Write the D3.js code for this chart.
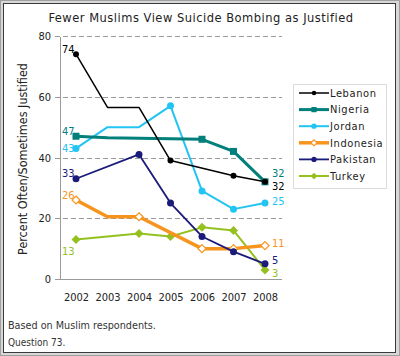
<!DOCTYPE html>
<html>
<head>
<meta charset="utf-8">
<script src="https://cdn.jsdelivr.net/npm/d3@7"></script>
<style>
  html, body { margin: 0; padding: 0; background: #fff; }
  svg { display: block; }
  text { font-family: "DejaVu Sans Condensed", "DejaVu Sans", sans-serif; }
</style>
</head>
<body>
<svg id="chart" width="400" height="356"></svg>
<script>
// ---------- data ----------
const years = [2002, 2003, 2004, 2005, 2006, 2007, 2008];
const seriesNames = ["Lebanon", "Nigeria", "Jordan", "Indonesia", "Pakistan", "Turkey"];
// null = no point at that year (line passes straight through)
const lebanon   = [74, 56.5, 56.5, 39, null, 34, 32];
const nigeria   = [47, 46.5, null, null, 46, 42, 32];
const jordan    = [43, 50, 50, 57, 29, 23, 25];
const indonesia = [26, 20.5, 20.5, null, 10, 10, 11];
const pakistan  = [33, null, 41, 25, 14, 9, 5];
const turkey    = [13, null, 15, 14, 17, 16, 3];
// 1 = a survey marker is drawn at that year
const lebanonMarks   = [1, 0, 0, 1, 0, 1, 1];
const nigeriaMarks   = [1, 0, 0, 0, 1, 1, 1];
const jordanMarks    = [1, 0, 0, 1, 1, 1, 1];
const indonesiaMarks = [1, 0, 1, 0, 1, 1, 1];
const pakistanMarks  = [1, 0, 1, 1, 1, 1, 1];
const turkeyMarks    = [1, 0, 1, 1, 1, 1, 1];
const yTicks = [0, 20, 40, 60, 80];
const title = "Fewer Muslims View Suicide Bombing as Justified";
const yTitle = "Percent Often/Sometimes Justified";
const notes = ["Based on Muslim respondents.", "Question 73."];

// ---------- styles ----------
const styles = {
  Lebanon:   {color: "#000000", width: 1.5, marker: "circle",  r: 3,   fill: null,   startDy: -5, endDy: 4.5},
  Nigeria:   {color: "#007f7b", width: 3,   marker: "square",  r: 3.5, fill: null,   startDy: -5, endDy: -8.5},
  Jordan:    {color: "#22c4f2", width: 2,   marker: "circle",  r: 3.5, fill: null,   startDy: 0,  endDy: -1.5},
  Indonesia: {color: "#f7941d", width: 3.5, marker: "diamond", r: 4,   fill: "#fff", startDy: -5, endDy: -2.5},
  Pakistan:  {color: "#1b1b7a", width: 1.8, marker: "circle",  r: 3.5, fill: null,   startDy: -6, endDy: -3.5},
  Turkey:    {color: "#94c11f", width: 2,   marker: "diamond", r: 4.5, fill: null,   startDy: 12, endDy: 3.5}
};
const valuesBy = {Lebanon: lebanon, Nigeria: nigeria, Jordan: jordan, Indonesia: indonesia, Pakistan: pakistan, Turkey: turkey};
const marksBy = {Lebanon: lebanonMarks, Nigeria: nigeriaMarks, Jordan: jordanMarks, Indonesia: indonesiaMarks, Pakistan: pakistanMarks, Turkey: turkeyMarks};

const svg = d3.select("#chart");

// frame
svg.append("rect").attr("x", 0.5).attr("y", 0.5).attr("width", 399).attr("height", 355)
  .attr("fill", "#d8d8d8").attr("stroke", "#a0a0a0");
svg.append("rect").attr("x", 3.5).attr("y", 3.5).attr("width", 392).attr("height", 349)
  .attr("fill", "#fff").attr("stroke", "#3a3a3a");

const x = d3.scalePoint().domain(years).range([76, 265]);
const y = d3.scaleLinear().domain([0, 80]).range([279, 36]);

function fitText(sel, target) {
  const w = sel.node().getComputedTextLength();
  const fs = parseFloat(sel.attr("font-size"));
  sel.attr("font-size", fs * target / w);
}

// title
const t = svg.append("text").attr("x", 201).attr("y", 22).attr("text-anchor", "middle")
  .attr("font-size", 13).attr("fill", "#222").style("letter-spacing", "0.5px").text(title);
fitText(t, 305);

// gridlines
const g = svg.append("g");
g.selectAll("line.grid").data(yTicks.filter(d => d > 0)).join("line")
  .attr("x1", 55).attr("x2", 282)
  .attr("y1", d => Math.round(y(d)) + 0.5).attr("y2", d => Math.round(y(d)) + 0.5)
  .attr("stroke", "#9a9a9a").attr("stroke-dasharray", "5,3");

// axes
g.append("line").attr("x1", 60.5).attr("x2", 60.5).attr("y1", y(80) + 1).attr("y2", y(0))
  .attr("stroke", "#9a9a9a");
g.append("line").attr("x1", 55).attr("x2", 282).attr("y1", Math.round(y(0)) + 0.5).attr("y2", Math.round(y(0)) + 0.5)
  .attr("stroke", "#9a9a9a");

const yAxis = d3.axisLeft(y).tickValues(yTicks).tickSize(0).tickPadding(0);
const ya = svg.append("g").attr("transform", "translate(51,0)").call(yAxis);
ya.select(".domain").remove();
ya.selectAll("text").attr("font-size", 11).attr("fill", "#222")
  .style("font-family", '"DejaVu Sans Condensed", "DejaVu Sans", sans-serif');

const xAxis = d3.axisBottom(x).tickSize(0).tickPadding(0);
const xa = svg.append("g").attr("transform", "translate(0,293)").call(xAxis);
xa.select(".domain").remove();
xa.selectAll("text").attr("font-size", 11).attr("fill", "#222")
  .style("font-family", '"DejaVu Sans Condensed", "DejaVu Sans", sans-serif');

// y title
const yt = svg.append("text").attr("transform", "translate(27,159) rotate(-90)")
  .attr("text-anchor", "middle").attr("font-size", 12).attr("fill", "#222").text(yTitle);
fitText(yt, 192);

// lines
const line = d3.line().x(d => x(d.year)).y(d => y(d.value));
const drawOrder = ["Turkey", "Indonesia", "Pakistan", "Jordan", "Nigeria", "Lebanon"];
drawOrder.forEach(name => {
  const st = styles[name];
  const pts = years.map((yr, i) => ({year: yr, value: valuesBy[name][i], mark: marksBy[name][i]}))
    .filter(d => d.value !== null);
  svg.append("path").datum(pts).attr("d", line).attr("fill", "none")
    .attr("stroke", st.color).attr("stroke-width", st.width).attr("stroke-linejoin", "round");
  pts.filter(d => d.mark).forEach(d => drawMarker(svg, st, x(d.year), y(d.value)));
});

function drawMarker(parent, st, cx, cy) {
  const fill = st.fill || st.color;
  if (st.marker === "circle") {
    parent.append("circle").attr("cx", cx).attr("cy", cy).attr("r", st.r).attr("fill", fill);
  } else if (st.marker === "square") {
    parent.append("rect").attr("x", cx - st.r).attr("y", cy - st.r).attr("width", st.r * 2).attr("height", st.r * 2)
      .attr("fill", fill);
  } else {
    const r = st.r;
    parent.append("path").attr("d", `M${cx},${cy - r}L${cx + r},${cy}L${cx},${cy + r}L${cx - r},${cy}Z`)
      .attr("fill", fill).attr("stroke", st.color).attr("stroke-width", st.fill ? 1.2 : 0);
  }
}

// value labels
seriesNames.forEach(name => {
  const st = styles[name];
  const vals = valuesBy[name];
  const first = vals[0], last = vals[vals.length - 1];
  svg.append("text").attr("x", 62).attr("y", y(first) + st.startDy)
    .attr("dy", "0.35em").attr("font-size", 11).attr("fill", st.color).text(first);
  svg.append("text").attr("x", 272).attr("y", y(last) + st.endDy)
    .attr("dy", "0.35em").attr("font-size", 11).attr("fill", st.color).text(last);
});

// legend
const lg = svg.append("g");
lg.append("rect").attr("x", 293.5).attr("y", 84.5).attr("width", 93).attr("height", 104)
  .attr("fill", "#fff").attr("stroke", "#dcdcdc");
seriesNames.forEach((name, i) => {
  const st = styles[name];
  const ly = 93 + i * 16.6;
  lg.append("line").attr("x1", 299).attr("x2", 329).attr("y1", ly).attr("y2", ly)
    .attr("stroke", st.color).attr("stroke-width", st.width);
  drawMarker(lg, Object.assign({}, st, {r: st.r * 0.75}), 314, ly);
  lg.append("text").attr("x", 330).attr("y", ly).attr("dy", "0.35em")
    .attr("font-size", 11).attr("fill", "#222").style("letter-spacing", "0.6px").text(name);
});

// notes
notes.forEach((n, i) => {
  const nt = svg.append("text").attr("x", 8).attr("y", 329 + i * 17)
    .attr("font-size", 10).attr("fill", "#333").text(n);
  if (i === 0) fitText(nt, 148);
});
</script>
</body>
</html>
